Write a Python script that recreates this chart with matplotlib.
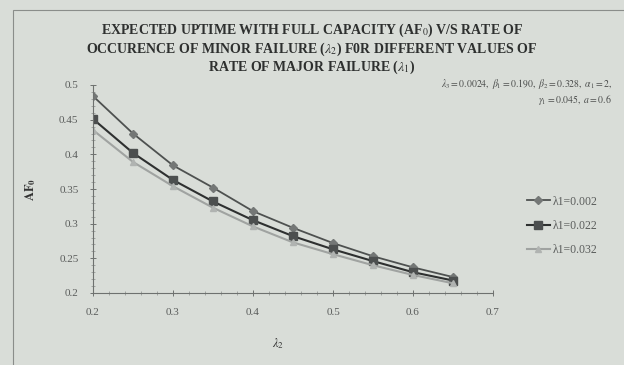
import matplotlib.pyplot as plt
from matplotlib.patches import Rectangle

# data
lam2 = [0.2, 0.25, 0.3, 0.35, 0.4, 0.45, 0.5, 0.55, 0.6, 0.65]
af0_002 = [0.484, 0.430, 0.384, 0.352, 0.318, 0.294, 0.272, 0.253, 0.237, 0.223]
af0_022 = [0.451, 0.402, 0.363, 0.332, 0.305, 0.282, 0.263, 0.246, 0.230, 0.218]
af0_032 = [0.435, 0.389, 0.354, 0.323, 0.296, 0.273, 0.256, 0.240, 0.226, 0.214]
labels = ["λ1=0.002", "λ1=0.022", "λ1=0.032"]

plt.rcParams['font.family'] = ['Liberation Serif', 'DejaVu Serif']
plt.rcParams['mathtext.fontset'] = 'stix'

bg = '#d9ddd8'
fig = plt.figure(figsize=(6.24, 3.65), dpi=100, facecolor=bg)

# chart frame (Excel chart border)
fig.patches.append(Rectangle((13 / 624, -0.05), 1.2, 1 - 10 / 365 + 0.05,
                             transform=fig.transFigure, fill=False,
                             edgecolor='#8a8d8a', lw=0.8))

ax = fig.add_axes([93 / 624, 1 - 293 / 365, 400 / 624, 208 / 365])
ax.set_facecolor(bg)

ax.plot(lam2, af0_002, color='#4e5150', lw=1.3, marker='D', ms=4,
        mfc='#747776', mec='#747776', label=labels[0])
ax.plot(lam2, af0_022, color='#2e3030', lw=1.5, marker='s', ms=5.5,
        mfc='#4c4f4f', mec='#4c4f4f', label=labels[1])
ax.plot(lam2, af0_032, color='#a0a3a1', lw=1.5, marker='^', ms=4.5,
        mfc='#b0b3b1', mec='#b0b3b1', label=labels[2])

ax.set_xlim(0.2, 0.7)
ax.set_ylim(0.2, 0.5)
ax.set_xticks([0.2, 0.3, 0.4, 0.5, 0.6, 0.7])
ax.set_xticklabels(["0.2", "0.3", "0.4", "0.5", "0.6", "0.7"])
ax.set_yticks([0.2, 0.25, 0.3, 0.35, 0.4, 0.45, 0.5])
ax.set_yticklabels(["0.2", "0.25", "0.3", "0.35", "0.4", "0.45", "0.5"])
ax.minorticks_on()
ax.tick_params(which='major', direction='inout', length=5, width=0.7,
               colors='#6e716f', labelsize=8, labelcolor='#5a5c5b', pad=8)
ax.tick_params(which='minor', direction='inout', length=2.5, width=0.5,
               colors='#8a8d8b')
for s in ['top', 'right']:
    ax.spines[s].set_visible(False)
for s in ['left', 'bottom']:
    ax.spines[s].set_color('#6e716f')
    ax.spines[s].set_linewidth(0.8)

ax.set_xlabel(r"$\lambda_2$", fontsize=9, color='#333333')
ax.xaxis.set_label_coords((278 - 93) / 400, -(336 - 293) / 208)
ax.set_ylabel(r"$\mathbf{AF_0}$", fontsize=9, color='#333333')
ax.yaxis.set_label_coords(-(93 - 38) / 400, 0.5)

fig.legend(loc='upper left', bbox_to_anchor=(516 / 624, 1 - 185 / 365),
           frameon=False, fontsize=8.5, labelcolor='#5a5c5b',
           handlelength=2.0, handletextpad=0.2, labelspacing=1.05)

fig.text(0.5, 1 - 22 / 365,
         "EXPECTED UPTIME WITH FULL CAPACITY (AF$_0$) V/S RATE OF\n"
         "OCCURENCE OF MINOR FAILURE ($\\lambda_2$) F0R DIFFERENT VALUES OF\n"
         "RATE OF MAJOR FAILURE ($\\lambda_1$)",
         ha='center', va='top', fontsize=10, fontweight='bold',
         color='#2e302f', linespacing=1.1)

fig.text(612 / 624, 1 - 77 / 365,
         "$\\lambda_3 = 0.0024,\\ \\beta_1 = 0.190,\\ \\beta_2 = 0.328,\\ \\alpha_1 = 2,$\n"
         "$\\gamma_1 = 0.045,\\ a = 0.6$",
         ha='right', va='top', fontsize=7, color='#4a4c4b',
         multialignment='right', linespacing=1.2)

fig.savefig("out.png", dpi=100, facecolor=bg)
